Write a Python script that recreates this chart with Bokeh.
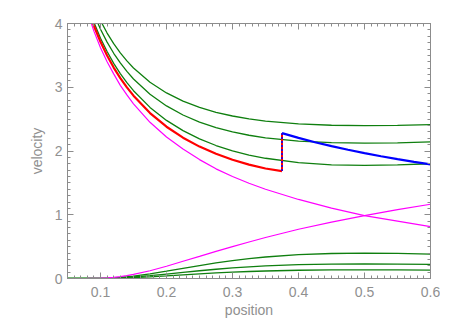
from bokeh.plotting import figure
from bokeh.models import Range1d, LinearAxis, FixedTicker, CustomJSTickFormatter
from bokeh.embed import file_html
from bokeh.resources import INLINE

# ---------------- data ----------------
# supersonic branches (start above the top of the frame)
X_HI = [0.08, 0.09, 0.10, 0.11, 0.12, 0.13, 0.14, 0.15, 0.175, 0.20, 0.225,
        0.25, 0.275, 0.30, 0.325, 0.35, 0.40, 0.45, 0.50, 0.55, 0.60]
MAGENTA_DOWN = [4.19, 3.88, 3.62, 3.40, 3.21, 3.03, 2.88, 2.74, 2.45, 2.22, 2.03,
                1.865, 1.72, 1.60, 1.495, 1.40, 1.24, 1.105, 0.985, 0.90, 0.815]
GREEN_HI_1 = [4.31, 4.02, 3.77, 3.56, 3.375, 3.214, 3.072, 2.946, 2.684, 2.48, 2.319,
              2.19, 2.086, 2.003, 1.937, 1.886, 1.817, 1.783, 1.774, 1.781, 1.80]
GREEN_HI_2 = [4.43, 4.15, 3.91, 3.708, 3.533, 3.381, 3.248, 3.13, 2.89, 2.707, 2.565,
              2.454, 2.368, 2.30, 2.247, 2.207, 2.155, 2.13, 2.123, 2.128, 2.142]
GREEN_HI_3 = [4.55, 4.274, 4.044, 3.85, 3.683, 3.539, 3.413, 3.302, 3.079, 2.911, 2.782,
              2.684, 2.607, 2.549, 2.503, 2.469, 2.425, 2.404, 2.398, 2.402, 2.414]

# red branch up to the jump
X_RED = [0.08, 0.09, 0.10, 0.11, 0.12, 0.13, 0.14, 0.15, 0.175, 0.20, 0.225,
         0.25, 0.275, 0.30, 0.325, 0.35, 0.375]
RED = [4.26, 3.965, 3.713, 3.497, 3.309, 3.144, 2.998, 2.868, 2.595, 2.381, 2.209,
       2.069, 1.956, 1.862, 1.787, 1.726, 1.685]

# blue branch after the jump
X_BLUE = [0.375, 0.40, 0.425, 0.45, 0.475, 0.50, 0.525, 0.55, 0.575, 0.60]
BLUE = [2.28, 2.205, 2.138, 2.076, 2.019, 1.966, 1.917, 1.872, 1.829, 1.79]

# subsonic branches (start at zero)
X_LO = [0.05, 0.08, 0.10, 0.11, 0.12, 0.13, 0.14, 0.15, 0.175, 0.20, 0.225,
        0.25, 0.275, 0.30, 0.325, 0.35, 0.40, 0.45, 0.50, 0.55, 0.60]
MAGENTA_UP = [0.0, 0.001, 0.005, 0.010, 0.019, 0.030, 0.045, 0.064, 0.122, 0.192, 0.27,
              0.347, 0.425, 0.50, 0.573, 0.643, 0.772, 0.885, 0.985, 1.08, 1.165]
GREEN_LO_1 = [0.0, 0.0004, 0.0031, 0.0063, 0.0113, 0.0184, 0.0274, 0.0385, 0.0734, 0.1152, 0.1596,
              0.2033, 0.2438, 0.2801, 0.3112, 0.3373, 0.3739, 0.3924, 0.3982, 0.3937, 0.3838]
GREEN_LO_2 = [0.0, 0.0002, 0.0019, 0.0038, 0.0069, 0.0111, 0.0166, 0.0233, 0.0444, 0.0696, 0.096,
              0.1217, 0.1451, 0.1656, 0.1828, 0.1971, 0.2165, 0.2263, 0.229, 0.2269, 0.2216]
GREEN_LO_3 = [0.0, 0.0001, 0.0011, 0.0023, 0.0042, 0.0067, 0.0101, 0.0141, 0.0269, 0.0421, 0.058,
              0.0735, 0.0874, 0.0995, 0.1097, 0.118, 0.1294, 0.135, 0.1366, 0.1353, 0.1323]

X_TICKS = [0.1, 0.2, 0.3, 0.4, 0.5, 0.6]
Y_TICKS = [0, 1, 2, 3, 4]
X_MINOR = [round(0.05 + 0.01 * i, 2) for i in range(56)]
Y_MINOR = [round(0.1 * i, 1) for i in range(41)]

X_LABEL = "position"
Y_LABEL = "velocity"

# ---------------- styling ----------------
GRAY = "#8c8c8c"
TEXT_GRAY = "#909090"
FONT = "Liberation Sans"
GREEN = "#0f7f0f"
MAGENTA = "#ff00ff"

p = figure(frame_width=363, frame_height=255,
           x_range=Range1d(0.05, 0.6), y_range=Range1d(0, 4),
           output_backend="svg", toolbar_location=None,
           x_axis_type=None, y_axis_type=None,
           min_border_left=67, min_border_right=10,
           min_border_top=23, min_border_bottom=20)
p.outline_line_color = GRAY
p.background_fill_alpha = 0
p.border_fill_color = "white"


def make_axis(ticks, minor, show_labels):
    ax = LinearAxis(ticker=FixedTicker(ticks=ticks, minor_ticks=minor))
    ax.axis_line_color = GRAY
    ax.major_tick_line_color = GRAY
    ax.minor_tick_line_color = GRAY
    ax.major_tick_in = 6
    ax.major_tick_out = 0
    ax.minor_tick_in = 3
    ax.minor_tick_out = 0
    if show_labels:
        ax.major_label_text_font = FONT
        ax.major_label_text_font_size = "14px"
        ax.major_label_text_color = TEXT_GRAY
    else:
        ax.formatter = CustomJSTickFormatter(code="return ''")
        ax.major_label_standoff = 0
    return ax


xb = make_axis(X_TICKS, X_MINOR, True)
xb.major_label_standoff = 8
xb.axis_label = X_LABEL
xb.axis_label_text_font = FONT
xb.axis_label_text_font_size = "14px"
xb.axis_label_text_font_style = "normal"
xb.axis_label_text_color = TEXT_GRAY
xb.axis_label_standoff = 2
xt = make_axis(X_TICKS, X_MINOR, False)
yl = make_axis(Y_TICKS, Y_MINOR, True)
yl.major_label_standoff = 5
yl.axis_label = Y_LABEL
yl.axis_label_text_font = FONT
yl.axis_label_text_font_size = "14px"
yl.axis_label_text_font_style = "normal"
yl.axis_label_text_color = TEXT_GRAY
yl.axis_label_standoff = 7
yr = make_axis(Y_TICKS, Y_MINOR, False)

p.add_layout(xb, "below")
p.add_layout(xt, "above")
p.add_layout(yl, "left")
p.add_layout(yr, "right")

# curves
for ys in (GREEN_HI_1, GREEN_HI_2, GREEN_HI_3):
    p.line(X_HI, ys, line_color=GREEN, line_width=1.3)
for ys in (GREEN_LO_1, GREEN_LO_2, GREEN_LO_3):
    p.line(X_LO, ys, line_color=GREEN, line_width=1.3)
p.line(X_HI, MAGENTA_DOWN, line_color=MAGENTA, line_width=1.2)
p.line(X_LO, MAGENTA_UP, line_color=MAGENTA, line_width=1.2)
p.line(X_RED, RED, line_color="red", line_width=2.2)
p.segment(x0=[X_RED[-1]], y0=[RED[-1]], x1=[X_BLUE[0]], y1=[BLUE[0]],
          line_color="red", line_width=2)
p.segment(x0=[X_RED[-1]], y0=[RED[-1]], x1=[X_BLUE[0]], y1=[BLUE[0]],
          line_color="blue", line_width=1.5, line_dash="2 2")
p.line(X_BLUE, BLUE, line_color="blue", line_width=2.2)

open("out.html", "w").write(file_html(p, INLINE))
